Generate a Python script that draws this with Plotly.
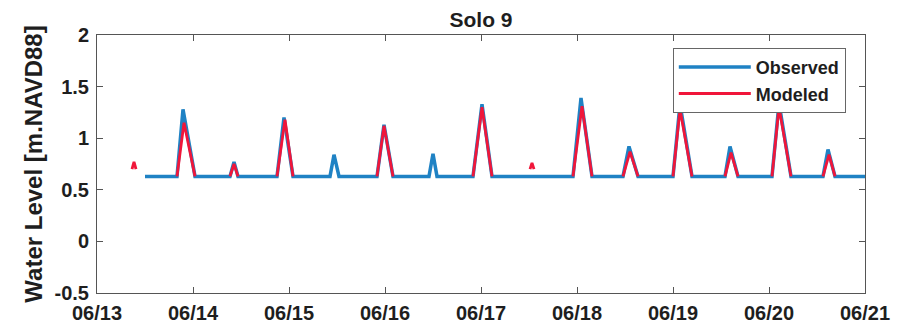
import plotly.graph_objects as go

# ---- data ----
obs_time = [
    "2023-06-13 12:00", "2023-06-13 20:00", "2023-06-13 21:30", "2023-06-14 00:30",
    "2023-06-14 09:15", "2023-06-14 10:15", "2023-06-14 11:15",
    "2023-06-14 21:00", "2023-06-14 22:45", "2023-06-15 01:00",
    "2023-06-15 10:15", "2023-06-15 11:15", "2023-06-15 12:30",
    "2023-06-15 22:00", "2023-06-15 23:45", "2023-06-16 02:00",
    "2023-06-16 11:00", "2023-06-16 12:00", "2023-06-16 13:00",
    "2023-06-16 22:00", "2023-06-17 00:15", "2023-06-17 02:45",
    "2023-06-17 23:00", "2023-06-18 01:00", "2023-06-18 03:45",
    "2023-06-18 11:30", "2023-06-18 13:00", "2023-06-18 15:15",
    "2023-06-19 00:00", "2023-06-19 01:45", "2023-06-19 04:45",
    "2023-06-19 13:00", "2023-06-19 14:15", "2023-06-19 16:15",
    "2023-06-20 00:45", "2023-06-20 02:30", "2023-06-20 05:30",
    "2023-06-20 13:30", "2023-06-20 14:45", "2023-06-20 16:30",
    "2023-06-21 00:00",
]
obs_level = [
    0.63, 0.63, 1.28, 0.63,
    0.63, 0.77, 0.63,
    0.63, 1.20, 0.63,
    0.63, 0.84, 0.63,
    0.63, 1.13, 0.63,
    0.63, 0.85, 0.63,
    0.63, 1.33, 0.63,
    0.63, 1.39, 0.63,
    0.63, 0.92, 0.63,
    0.63, 1.33, 0.63,
    0.63, 0.92, 0.63,
    0.63, 1.34, 0.63,
    0.63, 0.89, 0.63,
    0.63,
]

mod_time = [
    "2023-06-13 08:45", "2023-06-13 09:15", "2023-06-13 09:45", None,
    "2023-06-13 20:00", "2023-06-13 21:45", "2023-06-14 00:30", None,
    "2023-06-14 09:15", "2023-06-14 10:15", "2023-06-14 11:15", None,
    "2023-06-14 21:00", "2023-06-14 23:00", "2023-06-15 01:00", None,
    "2023-06-15 22:00", "2023-06-15 23:45", "2023-06-16 02:00", None,
    "2023-06-16 22:00", "2023-06-17 00:15", "2023-06-17 02:45", None,
    "2023-06-17 12:15", "2023-06-17 12:45", "2023-06-17 13:15", None,
    "2023-06-17 23:00", "2023-06-18 01:15", "2023-06-18 03:45", None,
    "2023-06-18 11:30", "2023-06-18 13:15", "2023-06-18 15:15", None,
    "2023-06-19 00:00", "2023-06-19 01:45", "2023-06-19 04:45", None,
    "2023-06-19 13:00", "2023-06-19 14:30", "2023-06-19 16:15", None,
    "2023-06-20 00:45", "2023-06-20 02:30", "2023-06-20 05:30", None,
    "2023-06-20 13:30", "2023-06-20 15:00", "2023-06-20 16:30",
]
mod_level = [
    0.70, 0.77, 0.70, None,
    0.63, 1.15, 0.63, None,
    0.63, 0.75, 0.63, None,
    0.63, 1.18, 0.63, None,
    0.63, 1.12, 0.63, None,
    0.63, 1.30, 0.63, None,
    0.70, 0.76, 0.70, None,
    0.63, 1.31, 0.63, None,
    0.63, 0.87, 0.63, None,
    0.63, 1.28, 0.63, None,
    0.63, 0.86, 0.63, None,
    0.63, 1.30, 0.63, None,
    0.63, 0.84, 0.63,
]

y_ticks = [-0.5, 0, 0.5, 1, 1.5, 2]
y_tick_labels = ["-0.5", "0", "0.5", "1", "1.5", "2"]
x_range = ["2023-06-13", "2023-06-21"]

font_fam = "Liberation Sans, Arial, sans-serif"
txt_col = "#1e1e1e"

fig = go.Figure()
fig.add_trace(go.Scatter(
    x=obs_time, y=obs_level, mode="lines", name="<b>Observed</b>",
    legendgroup="a",
    line=dict(color="#1f82c4", width=3.5), connectgaps=False,
))
fig.add_trace(go.Scatter(
    x=mod_time, y=mod_level, mode="lines", name="<b>Modeled</b>",
    legendgroup="b",
    line=dict(color="#f0163a", width=2.8), connectgaps=False,
))

axis_common = dict(
    showline=True, linecolor="#555555", linewidth=1, mirror="ticks",
    ticks="inside", ticklen=6, tickcolor="#555555", showgrid=False, zeroline=False,
    tickfont=dict(family=font_fam, size=20, color=txt_col),
    automargin=False,
)

# page body has an 8px margin, so the figure is offset by 8px right/down
fig.update_layout(
    width=899, height=325,
    margin=dict(l=89, r=42, t=27, b=40),
    paper_bgcolor="white", plot_bgcolor="white",
    font=dict(family=font_fam, color=txt_col),
    title=dict(text="<b>Solo 9</b>", x=0.5, xanchor="center",
               xref="paper", yref="paper", y=1.0, yanchor="bottom",
               pad=dict(t=0, b=8),
               font=dict(size=21, family=font_fam, color=txt_col)),
    xaxis=dict(type="date", range=x_range, dtick=86400000, tickformat="<b>%m/%d</b>",
               ticklabelstandoff=2, **axis_common),
    yaxis=dict(range=[-0.5, 2], tickvals=y_ticks,
               ticktext=["<b>%s</b>" % t for t in y_tick_labels],
               ticklabelstandoff=3,
               title=dict(text="<b>Water Level [m.NAVD88]</b>", standoff=5,
                          font=dict(size=24, family=font_fam, color=txt_col)),
               **axis_common),
    legend=dict(x=0.975, y=0.95, xanchor="right", yanchor="top",
                bgcolor="white", bordercolor="#666666", borderwidth=1,
                font=dict(size=18, family=font_fam, color=txt_col),
                itemwidth=72, tracegroupgap=0, traceorder="grouped"),
    showlegend=True,
)

fig.write_html("out.html")
